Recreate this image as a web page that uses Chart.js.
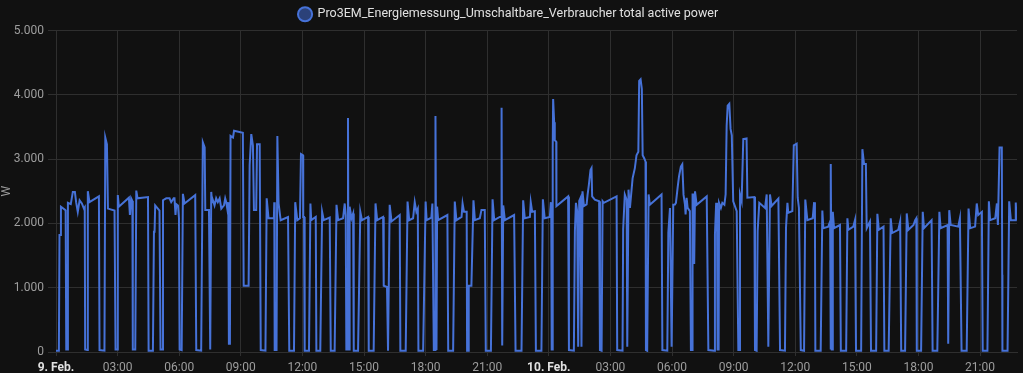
<!DOCTYPE html>
<html>
<head>
<meta charset="utf-8">
<script src="https://cdn.jsdelivr.net/npm/chart.js@4"></script>
<style>
  body { margin: 0; background: #111111; }
  canvas { display: block; }
</style>
</head>
<body>
<canvas id="chart" width="1023" height="373"></canvas>
<script>
// Messwerte [Stunde, Watt] – 9. Feb.
const feb9 = [
  [0.00, 20], [0.14, 20], [0.17, 1820], [0.22, 1820], [0.24, 2260], [0.45, 2210], [0.47, 2200],
  [0.50, 40], [0.56, 40], [0.58, 2320], [0.72, 2300], [0.82, 2490], [0.92, 2490], [0.98, 2330], [1.06, 2180], [1.15, 2360], [1.26, 2310], [1.36, 2230], [1.40, 2250],
  [1.42, 40], [1.52, 30], [1.55, 2500], [1.63, 2330], [2.09, 2420],
  [2.12, 30], [2.36, 20], [2.40, 3335], [2.48, 3230], [2.53, 2230], [2.85, 2200],
  [2.90, 40], [2.98, 40], [3.01, 2440], [3.06, 2260], [3.55, 2400], [3.60, 2130], [3.66, 2390], [3.72, 2350],
  [3.74, 40], [3.86, 40], [3.91, 2510], [3.97, 2390], [4.48, 2410],
  [4.51, 20], [4.72, 20], [4.77, 1870], [4.80, 1870], [4.83, 2280], [5.04, 2200],
  [5.09, 40], [5.17, 40], [5.21, 2360], [5.37, 2390], [5.53, 2390], [5.61, 2330], [5.73, 2390], [5.77, 2390], [5.82, 2130], [5.86, 2300], [5.94, 2280], [5.99, 2080],
  [6.02, 40], [6.12, 30], [6.18, 2460], [6.26, 2310], [6.78, 2440],
  [6.83, 30], [7.07, 20], [7.15, 3260], [7.24, 3180], [7.27, 2210], [7.45, 2210],
  [7.51, 40], [7.54, 40], [7.56, 2490], [7.60, 2330], [7.64, 2360], [7.72, 2280], [7.80, 2390], [7.88, 2330], [7.97, 2390], [8.05, 2230], [8.18, 2280], [8.24, 2390], [8.29, 2330], [8.34, 2230], [8.39, 2330],
  [8.42, 130], [8.47, 130], [8.50, 3360], [8.62, 3335], [8.67, 3440], [9.10, 3410],
  [9.14, 1030], [9.38, 1030], [9.43, 2900], [9.51, 3390], [9.59, 3210], [9.64, 2210], [9.75, 2210], [9.79, 3230], [9.92, 3230],
  [9.97, 30], [10.20, 20], [10.26, 2390], [10.35, 2080], [10.61, 2080], [10.63, 2330],
  [10.65, 30], [10.74, 30], [10.78, 3360], [10.84, 2310], [10.94, 2050], [11.30, 2100],
  [11.36, 20], [11.59, 20], [11.65, 2330], [11.75, 2050], [11.88, 2080], [11.93, 3080], [12.03, 3060], [12.04, 2100], [12.08, 2100],
  [12.11, 20], [12.32, 20], [12.39, 2310], [12.43, 2050], [12.65, 2100],
  [12.68, 20], [12.87, 20], [12.96, 2180], [13.04, 2050], [13.33, 2090],
  [13.38, 20], [13.57, 20], [13.66, 2290], [13.74, 2050], [13.98, 2080], [14.06, 2310], [14.11, 2130],
  [14.14, 40], [14.20, 40], [14.22, 3640], [14.25, 40], [14.27, 40], [14.30, 2260], [14.39, 2080], [14.47, 2155],
  [14.50, 20], [14.71, 20], [14.82, 2180], [14.90, 2050], [15.20, 2100],
  [15.23, 20], [15.47, 20], [15.56, 2310], [15.64, 2050], [15.93, 2100], [15.96, 1030], [16.12, 1010],
  [16.17, 20], [16.21, 20], [16.25, 2290], [16.34, 2030], [16.74, 2130],
  [16.77, 20], [17.03, 20], [17.12, 2340], [17.20, 2050], [17.39, 2080], [17.47, 2330], [17.55, 2180], [17.62, 2230],
  [17.65, 20], [17.88, 20], [18.00, 2340], [18.05, 2050], [18.28, 2090], [18.33, 2310],
  [18.40, 30], [18.46, 30], [18.48, 3670], [18.53, 30], [18.56, 2260], [18.61, 2050], [19.06, 2130],
  [19.10, 20], [19.34, 20], [19.42, 2340], [19.50, 2050], [19.75, 2100], [19.80, 2310], [19.87, 2180], [20.00, 2180],
  [20.02, 20], [20.08, 20], [20.10, 1030], [20.23, 1030], [20.33, 2360], [20.40, 2050], [20.64, 2080], [20.72, 2210], [20.88, 2210],
  [20.93, 20], [21.18, 20], [21.26, 2375], [21.34, 2050], [21.61, 2100], [21.68, 2100], [21.70, 3800], [21.73, 100], [21.76, 100], [21.78, 2280], [21.86, 2050], [22.31, 2130],
  [22.38, 20], [22.67, 20], [22.75, 2360], [22.83, 2080], [23.08, 2100], [23.12, 2330], [23.19, 2180], [23.32, 2190],
  [23.37, 20], [23.64, 20], [23.71, 2375], [23.80, 2080]
];

// Messwerte [Stunde, Watt] – 10. Feb.
const feb10 = [
  [0.05, 2100], [0.10, 2330], [0.12, 2090],
  [0.14, 40], [0.17, 40], [0.19, 3165], [0.21, 3935], [0.26, 3575], [0.29, 3295], [0.36, 3270], [0.37, 2270], [0.94, 2420],
  [0.98, 30], [1.22, 20], [1.27, 1880], [1.32, 2320], [1.38, 2190], [1.43, 80], [1.48, 2350], [1.54, 2395], [1.59, 80], [1.64, 2500], [1.71, 2270], [1.84, 2295], [1.89, 2450], [1.95, 2600], [2.03, 2830], [2.08, 2860], [2.11, 2420], [2.24, 2370], [2.45, 2345],
  [2.49, 30], [2.57, 20], [2.62, 2345], [2.68, 2320], [3.30, 2420],
  [3.33, 30], [3.59, 20], [3.62, 1910], [3.70, 2450], [3.79, 2370], [3.82, 80], [3.88, 2525], [3.95, 2240], [4.08, 2700], [4.19, 2860], [4.27, 3060], [4.36, 3115], [4.40, 4215], [4.47, 4240], [4.53, 4090], [4.57, 3060], [4.65, 3010], [4.71, 2960],
  [4.73, 30], [4.79, 20], [4.86, 2450], [4.92, 2290], [5.49, 2450],
  [5.53, 30], [5.77, 20], [5.82, 1855], [5.90, 2240], [5.98, 80], [6.06, 2290], [6.14, 2293], [6.19, 2320], [6.27, 2550], [6.34, 2730], [6.43, 2883], [6.50, 2919], [6.56, 2447], [6.63, 2293], [6.66, 2140], [6.71, 2396], [6.76, 2242], [6.87, 2190],
  [6.92, 30], [6.98, 30], [7.00, 2450], [7.05, 2450], [7.08, 1370], [7.12, 2500], [7.20, 2290], [7.69, 2420],
  [7.77, 30], [8.06, 20], [8.09, 1830], [8.15, 2320], [8.19, 2240], [8.22, 40], [8.27, 40], [8.29, 2320], [8.38, 2240], [8.45, 2320], [8.55, 2290], [8.61, 2450], [8.66, 3520], [8.71, 3830], [8.79, 3860], [8.85, 3470], [8.91, 3370], [8.98, 2345], [9.15, 2190],
  [9.23, 30], [9.28, 30], [9.31, 2450], [9.39, 2345], [9.47, 3310], [9.63, 3320], [9.67, 2400], [10.01, 2410],
  [10.04, 30], [10.12, 20], [10.17, 1880], [10.25, 2320], [10.53, 2240], [10.61, 2450], [10.69, 80], [10.77, 2450], [10.85, 2270], [11.18, 2385],
  [11.26, 30], [11.50, 20], [11.55, 1930], [11.62, 2320], [11.66, 2165], [11.86, 2190], [11.93, 3215], [12.07, 3240], [12.12, 2400], [12.18, 2240],
  [12.27, 30], [12.43, 20], [12.49, 2370], [12.59, 2050], [12.85, 2080], [12.92, 2330], [12.96, 2050],
  [12.98, 20], [13.24, 20], [13.32, 2200], [13.37, 1925], [13.61, 1950], [13.70, 2030], [13.72, 40], [13.74, 2925], [13.78, 40], [13.81, 40], [13.83, 2180], [13.89, 1925], [14.18, 1975],
  [14.22, 20], [14.48, 20], [14.54, 2080], [14.59, 1900], [14.83, 1950], [14.91, 2050],
  [14.96, 20], [15.21, 20], [15.27, 3155], [15.35, 2925], [15.44, 2925], [15.48, 1925], [15.64, 2030],
  [15.69, 20], [15.94, 20], [16.00, 2150], [16.07, 1900], [16.30, 1950],
  [16.34, 20], [16.55, 20], [16.65, 2080], [16.72, 1850], [17.02, 1900], [17.11, 2030],
  [17.16, 20], [17.35, 20], [17.43, 2155], [17.51, 1900], [17.76, 1975], [17.84, 2050], [17.90, 2080],
  [17.92, 20], [18.13, 20], [18.21, 2180], [18.27, 1925], [18.64, 2050],
  [18.69, 20], [18.92, 20], [19.02, 2180], [19.08, 1925], [19.42, 1975], [19.45, 130], [19.50, 2205], [19.57, 1975], [19.94, 1950], [20.02, 2080],
  [20.10, 20], [20.35, 20], [20.44, 2230], [20.52, 1925], [20.76, 1950], [20.84, 2310], [20.91, 2130], [21.09, 2180],
  [21.13, 20], [21.36, 20], [21.43, 2345], [21.49, 2050], [21.74, 2080], [21.82, 2310], [21.87, 1975], [21.95, 3180], [22.06, 3180], [22.08, 1200],
  [22.09, 20], [22.34, 20], [22.42, 2345], [22.50, 2050], [22.71, 2050], [22.74, 2325], [22.78, 2050]
];

const yTicks = [0, 1000, 2000, 3000, 4000, 5000];
const xTickHours = [0, 3, 6, 9, 12, 15, 18, 21, 24, 27, 30, 33, 36, 39, 42, 45];
const dayLabels = ['9. Feb.', '10. Feb.'];
const seriesName = 'Pro3EM_Energiemessung_Umschaltbare_Verbraucher total active power';

const points = feb9.map(p => ({ x: p[0], y: p[1] }))
  .concat(feb10.map(p => ({ x: p[0] + 24, y: p[1] })));

function formatNumber(v) {
  return String(v).replace(/\B(?=(\d{3})+(?!\d))/g, '.');
}

function hourLabel(h) {
  if (h % 24 === 0) return dayLabels[h / 24];
  const hh = h % 24;
  return (hh < 10 ? '0' : '') + hh + ':00';
}

const bgPlugin = {
  id: 'bg',
  beforeDraw(chart) {
    const c = chart.ctx;
    c.save();
    c.fillStyle = '#111111';
    c.fillRect(0, 0, chart.width, chart.height);
    c.restore();
  }
};

Chart.defaults.font.family = 'Roboto, "Noto Sans", sans-serif';
Chart.defaults.font.size = 12;

new Chart(document.getElementById('chart'), {
  type: 'line',
  data: {
    datasets: [{
      label: seriesName,
      data: points,
      borderColor: '#4672d8',
      backgroundColor: 'rgba(66,105,208,0.55)',
      borderWidth: 2,
      pointRadius: 0,
      tension: 0,
      fill: false
    }]
  },
  options: {
    responsive: false,
    animation: false,
    layout: { padding: { left: 0, right: 6, top: 0, bottom: 0 } },
    plugins: {
      legend: {
        position: 'top',
        labels: {
          color: '#e1e1e1',
          usePointStyle: true,
          pointStyle: 'circle',
          boxHeight: 10,
          padding: 8,
          font: { size: 12.5 }
        }
      },
      tooltip: { enabled: false }
    },
    scales: {
      x: {
        type: 'linear',
        min: 0,
        max: 46.8,
        afterBuildTicks: scale => { scale.ticks = xTickHours.map(v => ({ value: v })); },
        afterFit: scale => { scale.height = 21; },
        grid: { color: '#2f2f2f', tickLength: 4 },
        border: { color: '#2f2f2f' },
        ticks: {
          autoSkip: false,
          maxRotation: 0,
          padding: 5,
          callback: v => hourLabel(v),
          color: ctx => (ctx.tick && ctx.tick.value % 24 === 0) ? '#e1e1e1' : '#9e9e9e',
          font: ctx => (ctx.tick && ctx.tick.value % 24 === 0) ? { weight: 'bold', size: 12 } : { size: 12 }
        }
      },
      y: {
        min: 0,
        max: 5000,
        afterBuildTicks: scale => { scale.ticks = yTicks.map(v => ({ value: v })); },
        afterFit: scale => { scale.width = 56; },
        title: { display: true, text: 'W', color: '#9e9e9e', font: { size: 12 }, padding: 0 },
        grid: { color: '#2f2f2f', tickLength: 8 },
        border: { color: '#2f2f2f' },
        ticks: {
          color: '#9e9e9e',
          padding: 4,
          callback: v => formatNumber(v)
        }
      }
    }
  },
  plugins: [bgPlugin]
});
</script>
</body>
</html>
